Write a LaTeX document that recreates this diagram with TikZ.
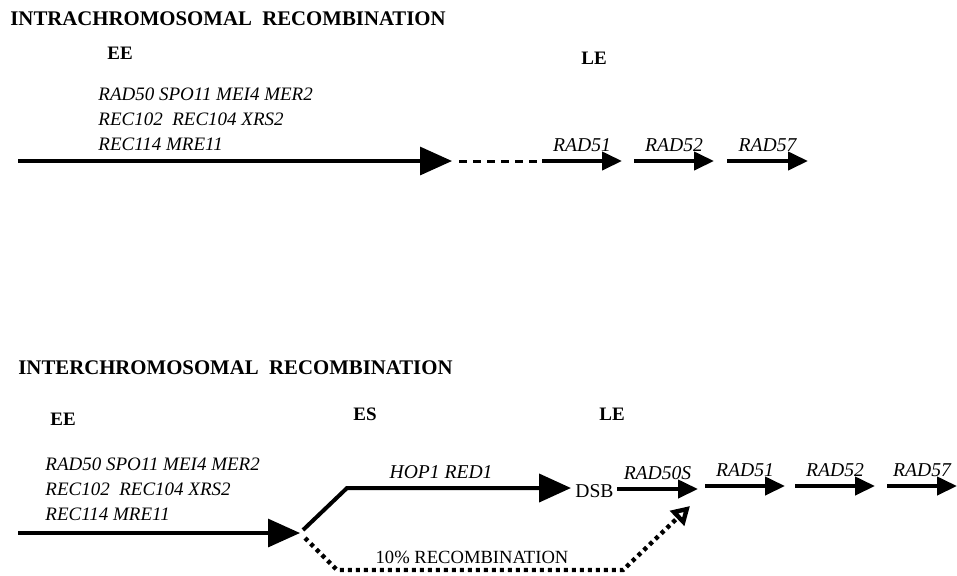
\documentclass[tikz,border=0pt]{standalone}
\usepackage{fontspec}
\setmainfont{Liberation Serif}
\usetikzlibrary{arrows.meta}
\begin{document}
\begin{tikzpicture}[x=0.5pt,y=-0.5pt,
    title/.style={anchor=base west,inner sep=0pt,font=\fontsize{10.4}{12}\selectfont\bfseries},
    stage/.style={anchor=base,inner sep=0pt,font=\fontsize{9.5}{11}\selectfont\bfseries},
    genes/.style={anchor=north west,inner sep=0pt,align=left,font=\fontsize{9.5}{12.5}\selectfont\itshape},
    gene/.style={anchor=base,inner sep=0pt,yshift=5pt,font=\fontsize{9.8}{12}\selectfont\itshape},
    main/.style={line width=1.6pt,-{Triangle[length=16pt,width=14pt]}},
    short/.style={line width=2pt,-{Triangle[length=10pt,width=9pt]}},
    dots/.style={line width=2.2pt,dash pattern=on 2pt off 2pt,-{Triangle[open,length=9pt,width=10pt]}}]
    \useasboundingbox (0,0) rectangle (957,575);

    \node[title] (t1) at (10,25) {INTRACHROMOSOMAL\ \ RECOMBINATION};
    \node[stage] (ee1) at (120,59) {EE};
    \node[stage] (le1) at (594,64) {LE};
    \node[genes] (g1) at (98,87) {RAD50 SPO11 MEI4 MER2\\REC102\ \ REC104 XRS2\\REC114 MRE11};

    \coordinate (a1) at (18,161);
    \coordinate (b1) at (452,161);
    \coordinate (c1) at (459,161);
    \coordinate (d1) at (540,161);
    \draw[main] (a1) -- (b1);
    \draw[line width=1.5pt,dash pattern=on 4pt off 3pt] (c1) -- (d1);
    \foreach \s/\e/\n/\l in {542/622/r1/RAD51,634/714/r2/RAD52,727/808/r3/RAD57} {
        \coordinate (\n s) at (\s,161);
        \coordinate (\n e) at (\e,161);
        \draw[short] (\n s) -- node[gene] (\n) {\l} (\n e);
    }

    \node[title] (t2) at (18,374) {INTERCHROMOSOMAL\ \ RECOMBINATION};
    \node[stage] (ee2) at (63,425) {EE};
    \node[stage] (es2) at (365,420) {ES};
    \node[stage] (le2) at (612,420) {LE};
    \node[genes] (g2) at (45,457) {RAD50 SPO11 MEI4 MER2\\REC102\ \ REC104 XRS2\\REC114 MRE11};

    \coordinate (a2) at (18,533);
    \coordinate (b2) at (300,533);
    \coordinate (c2) at (303,530);
    \coordinate (d2) at (347,488);
    \coordinate (e2) at (571,488);
    \draw[main] (a2) -- (b2);
    \draw[main,line width=2pt] (c2) -- (d2) -- node[gene,pos=0.42] (hop) {HOP1 RED1} (e2);
    \node[anchor=base west,inner sep=0pt,font=\fontsize{9.8}{12}\selectfont] (dsb) at (575,497) {DSB};
    \coordinate (f2) at (617,489);
    \coordinate (g2e) at (698,489);
    \draw[short] (f2) -- node[gene] (r50) {RAD50S} (g2e);

    \coordinate (p1) at (305,538);
    \coordinate (p2) at (337,570);
    \coordinate (p3) at (623,570);
    \coordinate (p4) at (690,506);
    \draw[dots] (p1) -- (p2) -- (p3) -- (p4);
    \node[anchor=base,inner sep=0pt,font=\fontsize{9.3}{12}\selectfont] (pct) at (472,563) {10\% RECOMBINATION};

    \foreach \s/\e/\n/\l in {705/785/q1/RAD51,795/875/q2/RAD52,887/957/q3/RAD57} {
        \coordinate (\n s) at (\s,486);
        \coordinate (\n e) at (\e,486);
        \draw[short] (\n s) -- node[gene] (\n) {\l} (\n e);
    }
\end{tikzpicture}
\end{document}
